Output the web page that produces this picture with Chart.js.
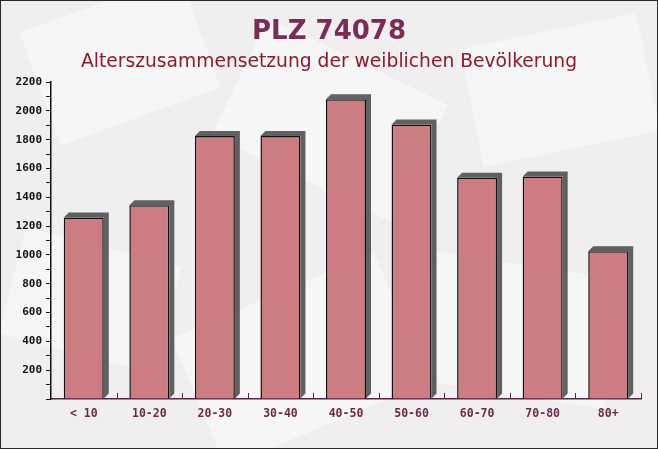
<!DOCTYPE html>
<html>
<head>
<meta charset="utf-8">
<script src="https://cdn.jsdelivr.net/npm/chart.js@4/dist/chart.umd.min.js"></script>
<style>
  html, body { margin: 0; padding: 0; background: #f1eef0; }
  #wrap { width: 658px; height: 449px; }
</style>
</head>
<body>
<div id="wrap"><canvas id="ageChart" width="658" height="449"></canvas></div>
<script>
// data
const ageGroups = ['< 10', '10-20', '20-30', '30-40', '40-50', '50-60', '60-70', '70-80', '80+'];
const femaleCounts = [1260, 1345, 1825, 1825, 2080, 1905, 1535, 1545, 1025];
const yMax = 2200;
const yStep = 100;

// page background with faint paper shapes and a thin frame
const backdrop = {
  id: 'backdrop',
  beforeDraw(chart) {
    const ctx = chart.ctx;
    ctx.save();
    ctx.fillStyle = '#f1eef0';
    ctx.fillRect(0, 0, chart.width, chart.height);
    const shapes = [
      [120, 60, 170, 120, -0.35], [330, 120, 200, 130, 0.45], [560, 90, 180, 120, -0.2],
      [90, 300, 160, 110, 0.25], [300, 360, 220, 140, -0.4], [520, 330, 190, 130, 0.15]
    ];
    ctx.fillStyle = 'rgba(255,255,255,0.45)';
    for (const s of shapes) {
      ctx.save();
      ctx.translate(s[0], s[1]);
      ctx.rotate(s[4]);
      ctx.fillRect(-s[2] / 2, -s[3] / 2, s[2], s[3]);
      ctx.restore();
    }
    ctx.restore();
  },
  afterDraw(chart) {
    const ctx = chart.ctx;
    ctx.save();
    ctx.strokeStyle = '#2a2a2a';
    ctx.lineWidth = 1;
    ctx.strokeRect(0.5, 0.5, chart.width - 1, chart.height - 1);
    ctx.restore();
  }
};

// grey 3d extrusion behind each bar, taken from the bar elements
const barShadow = {
  id: 'barShadow',
  beforeDatasetsDraw(chart) {
    const ctx = chart.ctx;
    const d = 5;
    ctx.save();
    ctx.fillStyle = 'rgba(70,70,70,0.85)';
    chart.getDatasetMeta(0).data.forEach((bar) => {
      const left = bar.x - bar.width / 2;
      const right = bar.x + bar.width / 2;
      ctx.beginPath();
      ctx.moveTo(left, bar.y);
      ctx.lineTo(left + d, bar.y - d);
      ctx.lineTo(right + d, bar.y - d);
      ctx.lineTo(right + d, bar.base - d);
      ctx.lineTo(right, bar.base);
      ctx.lineTo(right, bar.y);
      ctx.closePath();
      ctx.fill();
    });
    ctx.restore();
  },
  afterDatasetsDraw(chart) {
    // small upward ticks at category boundaries
    const ctx = chart.ctx;
    const x = chart.scales.x;
    const area = chart.chartArea;
    const half = (x.getPixelForValue(1) - x.getPixelForValue(0)) / 2;
    ctx.save();
    ctx.strokeStyle = '#4a2a3a';
    ctx.lineWidth = 1;
    for (let i = 0; i < ageGroups.length; i++) {
      const px = Math.round(x.getPixelForValue(i) + half) + 0.5;
      ctx.beginPath();
      ctx.moveTo(px, area.bottom);
      ctx.lineTo(px, area.bottom - 6);
      ctx.stroke();
    }
    ctx.restore();
  }
};

const ctx = document.getElementById('ageChart').getContext('2d');
new Chart(ctx, {
  type: 'bar',
  data: {
    labels: ageGroups,
    datasets: [{
      label: 'weiblich',
      data: femaleCounts,
      backgroundColor: 'rgba(198,108,114,0.88)',
      borderColor: '#111111',
      borderWidth: { top: 1.5, left: 1.5, right: 1.5, bottom: 0 },
      borderSkipped: 'bottom',
      barPercentage: 0.61,
      categoryPercentage: 1.0
    }]
  },
  options: {
    responsive: false,
    animation: false,
    layout: { padding: 0 },
    plugins: {
      legend: { display: false },
      tooltip: { enabled: false },
      title: {
        display: true,
        text: 'PLZ 74078',
        color: '#7b2b55',
        font: { family: 'DejaVu Sans', size: 26, weight: 'bold' },
        padding: { top: 17, bottom: 1 }
      },
      subtitle: {
        display: true,
        text: 'Alterszusammensetzung der weiblichen Bevölkerung',
        color: '#8a1c2c',
        font: { family: 'DejaVu Sans', size: 18.7 },
        padding: { top: 2, bottom: 8.4 }
      }
    },
    scales: {
      x: {
        grid: { display: false },
        border: { color: '#5a2444', width: 1.5 },
        ticks: {
          color: '#6b2a4a',
          font: { family: 'DejaVu Sans Mono', size: 11.5, weight: 'bold' },
          padding: 0,
          maxRotation: 0
        },
        afterFit(scale) { scale.height = 50; }
      },
      y: {
        min: 0,
        max: yMax,
        grid: { drawOnChartArea: false, color: '#111111', tickLength: 5 },
        border: { color: '#111111', width: 1.5 },
        ticks: {
          stepSize: yStep,
          autoSkip: false,
          color: '#111111',
          padding: 4,
          font: { family: 'DejaVu Sans Mono', size: 11, weight: 'bold' },
          callback: (v) => (v > 0 && v % 200 === 0 ? String(v) : '')
        },
        afterFit(scale) { scale.width = 51; }
      },
      // empty right strip so the titles centre on the whole canvas
      spacer: {
        type: 'linear',
        position: 'right',
        display: true,
        grid: { display: false },
        border: { display: false },
        ticks: { display: false },
        afterFit(scale) { scale.width = 17; }
      }
    }
  },
  plugins: [backdrop, barShadow]
});
</script>
</body>
</html>
